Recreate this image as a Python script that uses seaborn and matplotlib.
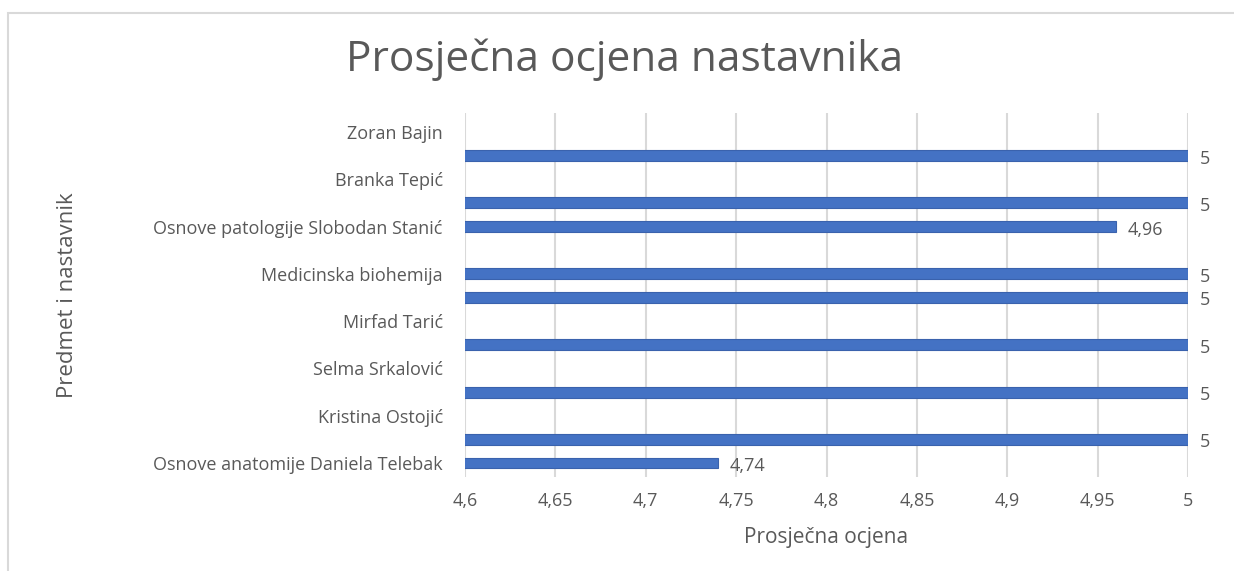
import numpy as np
import pandas as pd
import matplotlib
matplotlib.use("Agg")
import matplotlib.pyplot as plt
import matplotlib.patches as mpatches
import seaborn as sns

# rows from top to bottom; empty label = row whose label Excel skipped
row_labels = ["Zoran Bajin", "", "Branka Tepić", "",
              "Osnove patologije Slobodan Stanić", "",
              "Medicinska biohemija", "", "Mirfad Tarić", "",
              "Selma Srkalović", "", "Kristina Ostojić", "",
              "Osnove anatomije Daniela Telebak"]
row_values = [np.nan, 5, np.nan, 5, 4.96, np.nan, 5, 5, np.nan, 5,
              np.nan, 5, np.nan, 5, 4.74]
x_ticks = [4.6, 4.65, 4.7, 4.75, 4.8, 4.85, 4.9, 4.95, 5.0]

df = pd.DataFrame({"row": [f"r{i}" for i in range(len(row_labels))],
                   "ocjena": row_values})

sns.set_style("white")
plt.rcParams["font.family"] = ["Open Sans", "DejaVu Sans"]
txt = "#595959"

fig = plt.figure(figsize=(12.34, 5.71), dpi=100)
ax = fig.add_axes([465 / 1234, 94 / 571, 723 / 1234, 364 / 571])

sns.barplot(data=df, y="row", x="ocjena", orient="h", color="#4472C4",
            saturation=1, edgecolor="#3A62AD", linewidth=0.8, width=0.46,
            ax=ax)

ax.set_xlim(4.6, 5.0)
ax.set_ylim(14.59, -0.80)
ax.set_xticks(x_ticks)
ax.set_xticklabels([f"{v:g}".replace(".", ",") for v in x_ticks])
ax.set_yticks(range(len(row_labels)))
ax.set_yticklabels(row_labels)
ax.tick_params(axis="x", length=0, pad=11, labelsize=13, labelcolor=txt)
ax.tick_params(axis="y", length=0, pad=16, labelsize=13, labelcolor=txt)
ax.xaxis.grid(True, color="#d9d9d9", linewidth=1.5)
ax.yaxis.grid(False)
ax.set_axisbelow(True)
for s in ax.spines.values():
    s.set_visible(False)

for i, v in enumerate(row_values):
    if np.isnan(v):
        continue
    lab = f"{v:g}".replace(".", ",")
    ax.annotate(lab, (v, i), xytext=(12, -3), textcoords="offset pixels",
                va="center", ha="left", fontsize=13, color=txt,
                annotation_clip=False)

ax.set_xlabel("Prosječna ocjena", fontsize=15, color=txt, labelpad=12)
ax.set_ylabel("Predmet i nastavnik", fontsize=16, color=txt)
ax.yaxis.set_label_coords(-0.535, 0.5)

fig.text(625 / 1234, 1 - 60 / 571, "Prosječna ocjena nastavnika",
         ha="center", va="center", fontsize=30.5, color=txt)

fig.patches.append(mpatches.Rectangle((8 / 1234, -0.1), 1.2, 1 - 13 / 571 + 0.1,
                                      transform=fig.transFigure, fill=False,
                                      edgecolor="#d9d9d9", linewidth=1.5))

fig.savefig("out.png", dpi=100, facecolor="white")
